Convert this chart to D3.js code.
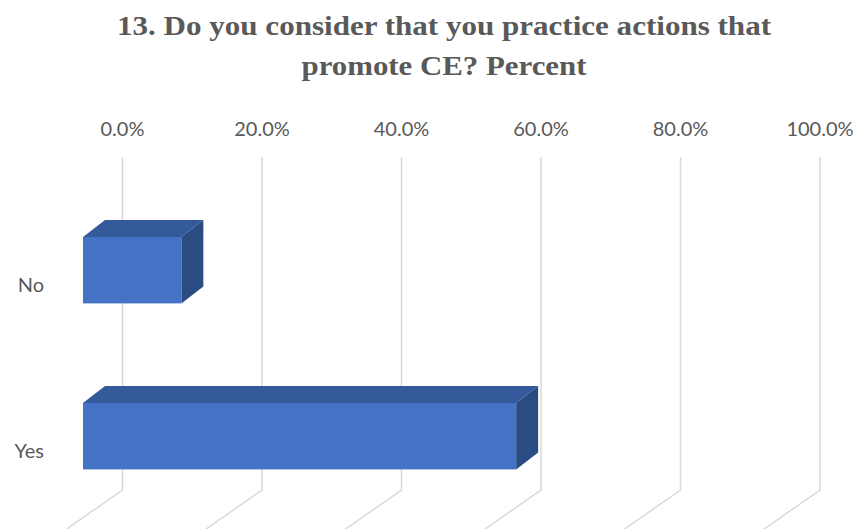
<!DOCTYPE html>
<html>
<head>
<meta charset="utf-8">
<script src="https://cdn.jsdelivr.net/npm/d3@7/dist/d3.min.js"></script>
<style>
  html, body { margin: 0; padding: 0; background: #ffffff; }
  svg { display: block; }
</style>
</head>
<body>
<div id="chart"></div>
<script>
// Survey answers and their shares (percent)
const categories = ["No", "Yes"];
const percentValues = [14.1, 62.1];
const tickValues = [0, 20, 40, 60, 80, 100];
const tickLabels = ["0.0%", "20.0%", "40.0%", "60.0%", "80.0%", "100.0%"];
const titleLines = ["13. Do you consider that you practice actions that", "promote CE? Percent"];

const width = 859, height = 529;
const svg = d3.select("#chart").append("svg")
  .attr("width", width).attr("height", height);

const textColor = "#595959";
const gridColor = "#d9d9d9";

// Value scale along the back wall of the 3D plot
const x = d3.scaleLinear().domain([0, 100]).range([122.5, 820]);

// Oblique projection: back wall -> front of bars, and bar depth
const wallTop = 157, wallBottom = 490;
const floorDir = [-53, 37];          // direction of floor gridlines
const frontShift = [-39.5, 0];       // bar front face relative to back wall (x)
const barDepth = [22, -17];          // front face -> back face offset

// Category bands for the bar front faces
const y = d3.scaleBand().domain(categories)
  .range([137.4, 569]).padding(0.6);

// Back-wall + floor gridlines
const grid = svg.append("g");
tickValues.forEach(v => {
  const gx = x(v);
  grid.append("path")
    .attr("d", d3.line()([
      [gx, wallTop], [gx, wallBottom],
      [gx + floorDir[0] * 1.6, wallBottom + floorDir[1] * 1.6]
    ]))
    .attr("fill", "none")
    .attr("stroke", gridColor)
    .attr("stroke-width", 1.5);
});

// Tick labels across the top
svg.append("g").selectAll("text").data(tickValues).join("text")
  .attr("x", d => x(d))
  .attr("y", 136)
  .attr("text-anchor", "middle")
  .attr("font-family", "Lato, 'Open Sans', sans-serif")
  .attr("font-size", 20)
  .attr("fill", textColor)
  .text((d, i) => tickLabels[i]);

// 3D bars: top, side, front faces
const bars = svg.append("g");
categories.forEach((c, i) => {
  const x0 = x(0) + frontShift[0];
  const x1 = x(percentValues[i]) + frontShift[0];
  const y0 = y(c), y1 = y(c) + y.bandwidth();
  const [dx, dy] = barDepth;
  const g = bars.append("g");
  g.append("path")
    .attr("d", d3.line()([[x0, y0], [x1, y0], [x1 + dx, y0 + dy], [x0 + dx, y0 + dy]]) + "Z")
    .attr("fill", "#345a9b");
  g.append("path")
    .attr("d", d3.line()([[x1, y0], [x1 + dx, y0 + dy], [x1 + dx, y1 + dy], [x1, y1]]) + "Z")
    .attr("fill", "#2b4b83");
  g.append("rect")
    .attr("x", x0).attr("y", y0)
    .attr("width", x1 - x0).attr("height", y1 - y0)
    .attr("fill", "#4472c4");
});

// Category labels
svg.append("g").selectAll("text").data(categories).join("text")
  .attr("x", 44)
  .attr("y", d => y(d) + y.bandwidth() / 2 + 22)
  .attr("text-anchor", "end")
  .attr("font-family", "Lato, 'Open Sans', sans-serif")
  .attr("font-size", 20)
  .attr("fill", textColor)
  .text(d => d);

// Title
const titleWidths = [654, 285];
svg.append("g").selectAll("text").data(titleLines).join("text")
  .attr("x", 444)
  .attr("y", (d, i) => 35 + i * 40)
  .attr("text-anchor", "middle")
  .attr("font-family", "'Liberation Serif', 'DejaVu Serif', serif")
  .attr("font-weight", "bold")
  .attr("font-size", 27)
  .attr("fill", textColor)
  .attr("textLength", (d, i) => titleWidths[i])
  .attr("lengthAdjust", "spacingAndGlyphs")
  .text(d => d);
</script>
</body>
</html>
